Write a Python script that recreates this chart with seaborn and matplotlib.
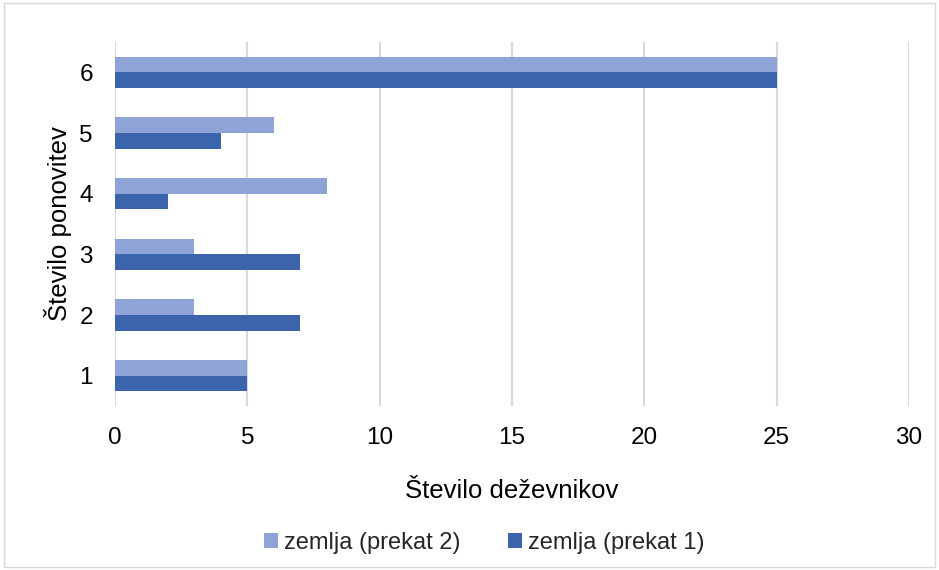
import matplotlib
matplotlib.use("Agg")
import matplotlib.pyplot as plt
import seaborn as sns
import pandas as pd
from matplotlib.patches import Rectangle

categories = ["1", "2", "3", "4", "5", "6"]
prekat2 = [5, 3, 3, 8, 6, 25]
prekat1 = [5, 7, 7, 2, 4, 25]
series_names = ["zemlja (prekat 2)", "zemlja (prekat 1)"]
x_ticks = [0, 5, 10, 15, 20, 25, 30]

rows = []
for c, a, b in zip(categories, prekat2, prekat1):
    rows.append({"cat": c, "series": series_names[0], "val": a})
    rows.append({"cat": c, "series": series_names[1], "val": b})
df = pd.DataFrame(rows)

sns.set_theme(style="white")
plt.rcParams["font.family"] = ["Liberation Sans", "DejaVu Sans"]

fig = plt.figure(figsize=(9.39, 5.70), dpi=100)
ax = fig.add_axes([115/939, 1-406/570, (909-115)/939, 364/570])

colors = ["#8FA4D6", "#3C64AD"]
sns.barplot(data=df, y="cat", x="val", hue="series", order=categories[::-1],
            hue_order=series_names, palette=colors, orient="h", width=0.52,
            ax=ax, legend=True, saturation=1, linewidth=0, edgecolor="none")

ax.set_xlim(0, 30)
ax.set_ylim(5.5, -0.5)
ax.set_xticks(x_ticks)
ax.set_xticklabels([str(t) for t in x_ticks], fontsize=17.5, color="#000000")
ax.tick_params(axis="y", labelsize=17.5, colors="#000000", length=0, pad=16)
ax.tick_params(axis="x", length=0, pad=15)
ax.xaxis.grid(True, color="#D9D9D9", linewidth=1.5)
ax.set_axisbelow(True)
for s in ax.spines.values():
    s.set_visible(False)
ax.set_xlabel("Število deževnikov", fontsize=18.5, color="#000000", labelpad=22)
ax.set_ylabel("Število ponovitev", fontsize=18.5, color="#000000")
ax.yaxis.set_label_coords(-(115-72)/794, 0.5)

leg = ax.legend(loc="center", bbox_to_anchor=((484-115)/794, -(543-406)/364), ncol=2,
                frameon=False, fontsize=17, handlelength=0.6, handleheight=0.6,
                handletextpad=0.25, columnspacing=2.0)

fig.patches.append(Rectangle((4/939, 3/570), 931/939, 564/570, transform=fig.transFigure,
                             fill=False, edgecolor="#D9D9D9", linewidth=1))

fig.savefig("out.png", dpi=100)
